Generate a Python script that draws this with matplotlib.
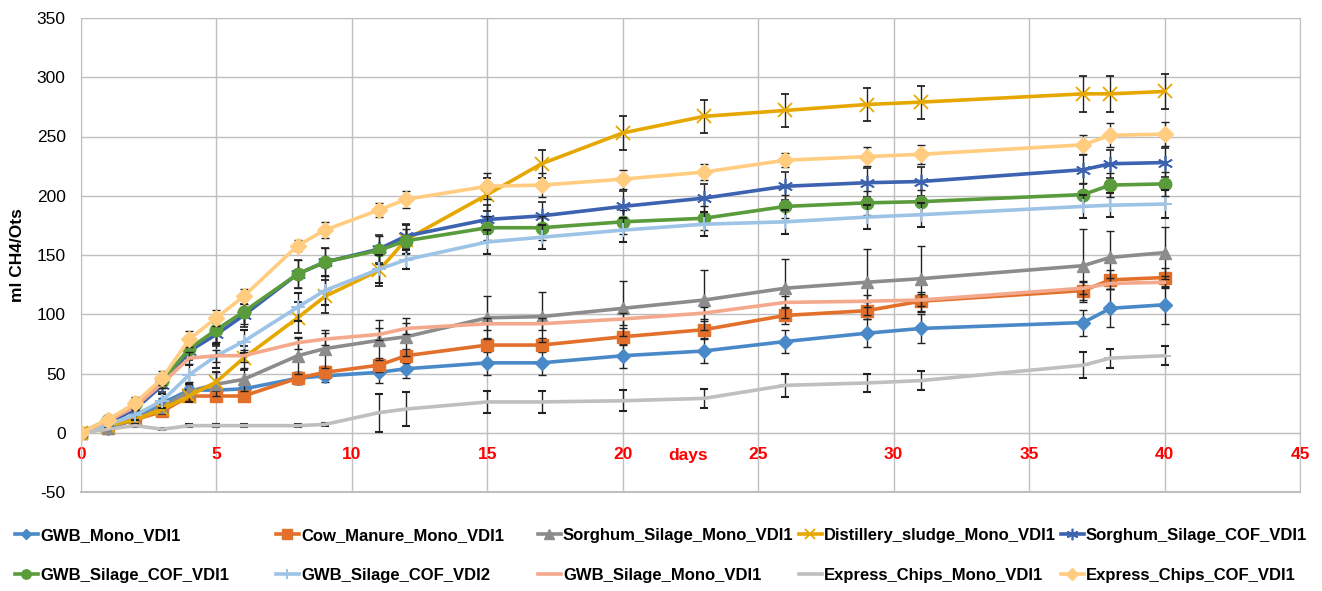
import matplotlib
matplotlib.use("Agg")
import matplotlib.pyplot as plt

days = [0, 1, 2, 3, 4, 5, 6, 8, 9, 11, 12, 15, 17, 20, 23, 26, 29, 31, 37, 38, 40]

series_names = [
    "GWB_Mono_VDI1", "Cow_Manure_Mono_VDI1", "Sorghum_Silage_Mono_VDI1",
    "Distillery_sludge_Mono_VDI1", "Sorghum_Silage_COF_VDI1",
    "GWB_Silage_COF_VDI1", "GWB_Silage_COF_VDI2", "GWB_Silage_Mono_VDI1",
    "Express_Chips_Mono_VDI1", "Express_Chips_COF_VDI1",
]

gwb_mono = [0, 4, 13, 25, 36, 36, 37, 46, 48, 51, 54, 59, 59, 65, 69, 77, 84, 88, 93, 105, 108]
gwb_mono_err = [0, 2, 3, 4, 4, 4, 4, 5, 5, 9, 8, 10, 10, 10, 10, 10, 12, 12, 11, 16, 16]

cow_manure = [0, 4, 11, 18, 31, 31, 31, 46, 51, 57, 65, 74, 74, 81, 87, 99, 103, 111, 120, 129, 131]
cow_manure_err = [0, 2, 3, 3, 4, 4, 4, 5, 5, 6, 6, 6, 6, 7, 7, 7, 7, 8, 8, 8, 8]

sorghum_mono = [0, 4, 11, 22, 35, 41, 45, 65, 71, 78, 81, 97, 98, 105, 112, 122, 127, 130, 141, 148, 152]
sorghum_mono_err = [0, 3, 4, 5, 8, 10, 10, 15, 16, 17, 16, 18, 21, 23, 25, 25, 28, 28, 31, 22, 22]

distillery = [0, 6, 11, 20, 31, 43, 63, 97, 115, 137, 163, 201, 227, 253, 267, 272, 277, 279, 286, 286, 288]
distillery_err = [0, 2, 3, 4, 5, 8, 10, 13, 14, 13, 12, 14, 12, 14, 14, 14, 14, 14, 15, 15, 15]

sorghum_cof = [0, 8, 20, 40, 69, 83, 99, 134, 144, 155, 166, 180, 183, 191, 198, 208, 211, 212, 222, 227, 228]
sorghum_cof_err = [0, 3, 5, 6, 8, 10, 10, 12, 12, 12, 10, 12, 12, 13, 12, 12, 12, 12, 12, 12, 12]

gwb_silage_cof1 = [0, 11, 24, 44, 71, 87, 102, 134, 144, 154, 162, 173, 173, 178, 181, 191, 194, 195, 201, 209, 210]
gwb_silage_cof1_err = [0, 3, 5, 6, 8, 10, 10, 12, 12, 12, 10, 10, 10, 10, 10, 10, 10, 10, 10, 10, 10]

gwb_silage_cof2 = [0, 7, 15, 27, 49, 65, 77, 106, 120, 138, 146, 161, 165, 171, 176, 178, 182, 184, 191, 192, 193]
gwb_silage_cof2_err = [0, 3, 4, 6, 8, 10, 10, 12, 12, 12, 8, 10, 10, 10, 10, 10, 10, 10, 10, 10, 12]

gwb_silage_mono = [0, 10, 22, 42, 63, 65, 65, 76, 79, 83, 88, 92, 92, 96, 101, 110, 111, 112, 122, 126, 127]
gwb_silage_mono_err = [0, 2, 3, 4, 5, 5, 5, 5, 5, 5, 5, 5, 5, 5, 5, 5, 5, 5, 5, 5, 5]

express_mono = [0, 3, 6, 3, 6, 6, 6, 6, 7, 17, 20, 26, 26, 27, 29, 40, 42, 44, 57, 63, 65]
express_mono_err = [0, 1, 1, 1, 1, 1, 1, 1, 1, 16, 14, 9, 9, 9, 8, 10, 8, 8, 11, 8, 8]

express_cof = [0, 11, 25, 46, 79, 97, 115, 158, 171, 188, 197, 208, 209, 214, 220, 230, 233, 235, 243, 251, 252]
express_cof_err = [0, 3, 5, 6, 7, 7, 6, 5, 7, 6, 7, 11, 10, 8, 7, 6, 8, 8, 8, 10, 10]

values = [gwb_mono, cow_manure, sorghum_mono, distillery, sorghum_cof,
          gwb_silage_cof1, gwb_silage_cof2, gwb_silage_mono, express_mono, express_cof]
errors = [gwb_mono_err, cow_manure_err, sorghum_mono_err, distillery_err, sorghum_cof_err,
          gwb_silage_cof1_err, gwb_silage_cof2_err, gwb_silage_mono_err, express_mono_err, express_cof_err]

x_ticks = [0, 5, 10, 15, 20, 25, 30, 35, 40, 45]
y_ticks = [-50, 0, 50, 100, 150, 200, 250, 300, 350]

colors = ["#4A89C8", "#E2702A", "#8C8C8C", "#E6A800", "#3C62B0",
          "#5A9B3B", "#9DC3E6", "#F4A98C", "#BFBFBF", "#FFCC80"]
markers = ["D", "s", "^", "x", (6, 2, 0), "o", "+", None, "_", "D"]
msizes = [7, 9, 9, 10, 11, 9, 10, 0, 8, 8]
mews = [1, 1, 1, 1.3, 1.2, 1, 1.5, 1, 1.5, 1]

plt.rcParams['font.family'] = ['Liberation Sans', 'DejaVu Sans']
plt.rcParams['axes.unicode_minus'] = False

W, H = 1322, 591
fig = plt.figure(figsize=(W / 100, H / 100), dpi=100)
ax = fig.add_axes([81 / W, 1 - 492 / H, (1300 - 81) / W, (492 - 18) / H])

grid_c = "#BFBFBF"
handles = []
for i, (vals, errs) in enumerate(zip(values, errors)):
    c = colors[i]
    eb = ax.errorbar(days, vals, yerr=errs, color=c, lw=2.6, marker=markers[i],
                     ms=msizes[i], mec=c, mfc=c, mew=mews[i],
                     ecolor="#222222", elinewidth=1.0, capsize=3, capthick=1.0,
                     label=series_names[i], zorder=3 + i * 0.1)
    handles.append(eb[0])

ax.set_xlim(0, 45)
ax.set_ylim(-50, 350)
ax.set_xticks(x_ticks)
ax.set_yticks(y_ticks)
ax.grid(True, color=grid_c, lw=1.0)
ax.set_axisbelow(True)

for s in ["left", "right", "top"]:
    ax.spines[s].set_color(grid_c)
ax.spines["bottom"].set_position(("data", 0))
ax.spines["bottom"].set_color(grid_c)
ax.axhline(-50, color=grid_c, lw=1.5, clip_on=False, zorder=1)

ax.tick_params(axis="both", length=0)
ax.tick_params(axis="y", labelsize=12.5, pad=11, colors="black")
ax.tick_params(axis="x", labelsize=12.5, pad=10)
for lab in ax.get_xticklabels():
    lab.set_color("red")
    lab.set_fontweight("bold")

ax.set_xlabel("days", color="red", fontweight="bold", fontsize=12.5)
ax.xaxis.label.set_va("center")
ax.xaxis.set_label_coords(0.498, 0.078)
ax.set_ylabel("ml CH4/Ots", fontweight="bold", fontsize=12.5)
ax.yaxis.set_label_coords(-0.046, 0.5)

# legend: 5 equal-width columns, two rows, as in the reference
col_x = [15, 276, 538, 799, 1061]
for j in range(5):
    top, bottom = j, j + 5
    fig.legend([handles[top], handles[bottom]],
               [series_names[top], series_names[bottom]],
               loc="upper left", bbox_to_anchor=(col_x[j] / W, 1 - 528 / H),
               frameon=False, prop={"weight": "bold", "size": 12},
               handlelength=1.35, handletextpad=0.15, markerscale=0.75,
               labelspacing=1.5, borderpad=0.0, borderaxespad=0.0)

fig.savefig("out.png", dpi=100)
